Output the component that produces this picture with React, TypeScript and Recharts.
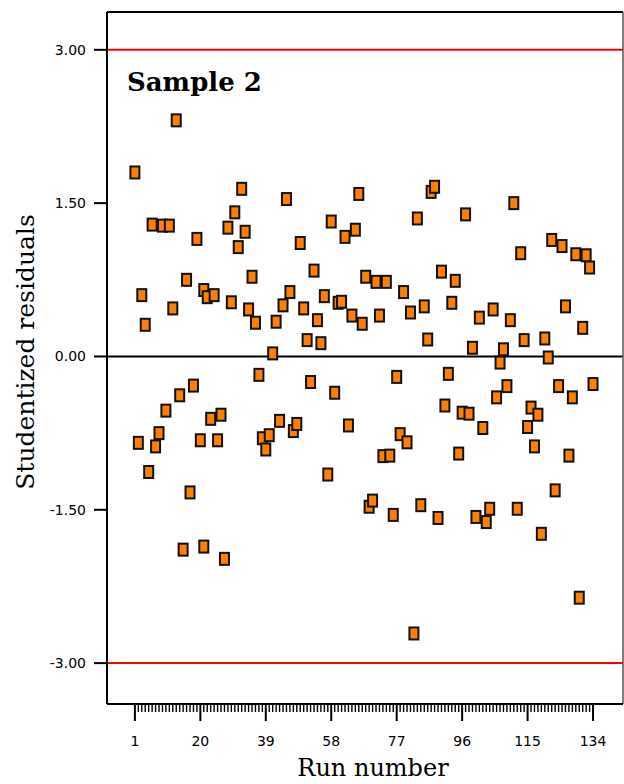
import {
  ScatterChart,
  Scatter,
  XAxis,
  YAxis,
  ReferenceLine,
} from "recharts";

// run number of each observation (21 appears twice in the record)
const RUNS = [
  1, 2, 3, 4, 5, 6, 7, 8, 9, 10, 11, 12, 13, 14, 15, 16, 17, 18, 19, 20, 21,
  21, 22, 23, 24, 25, 26, 27, 28, 29, 30, 31, 32, 33, 34, 35, 36, 37, 38, 39,
  40, 41, 42, 43, 44, 45, 46, 47, 48, 49, 50, 51, 52, 53, 54, 55, 56, 57, 58,
  59, 60, 61, 62, 63, 64, 65, 66, 67, 68, 69, 70, 71, 72, 73, 74, 75, 76, 77,
  78, 79, 80, 81, 82, 83, 84, 85, 86, 87, 88, 89, 90, 91, 92, 93, 94, 95, 96,
  97, 98, 99, 100, 101, 102, 103, 104, 105, 106, 107, 108, 109, 110, 111, 112,
  113, 114, 115, 116, 117, 118, 119, 120, 121, 122, 123, 124, 125, 126, 127,
  128, 129, 130, 131, 132, 133, 134,
];

// studentized residual for each run, same order as RUNS
const RESIDUALS = [
  1.8, -0.845, 0.6, 0.31, -1.13, 1.29, -0.88, -0.75, 1.28, -0.53, 1.28, 0.47,
  2.31, -0.38, -1.89, 0.75, -1.33, -0.285, 1.15, -0.82, -1.86,
  0.65, 0.58, -0.61, 0.6, -0.82, -0.57, -1.98, 1.26, 0.53, 1.41, 1.07, 1.64,
  1.22, 0.46, 0.78, 0.33, -0.18, -0.8, -0.91, -0.77, 0.03, 0.34, -0.63, 0.5,
  1.54, 0.63, -0.73, -0.66, 1.11, 0.47, 0.16, -0.25, 0.84, 0.355, 0.13, 0.59,
  -1.155, 1.32, -0.355, 0.525, 0.535, 1.17, -0.675, 0.4, 1.24, 1.59, 0.32,
  0.78, -1.47, -1.41, 0.73, 0.4, -0.975, 0.73, -0.97, -1.55, -0.2, -0.76, 0.63,
  -0.84, 0.43, -2.71, 1.35, -1.455, 0.49, 0.166, 1.61, 1.66, -1.58, 0.83,
  -0.48, -0.17, 0.525, 0.74, -0.95, -0.55, 1.39, -0.56, 0.085, -1.57, 0.38,
  -0.7, -1.62, -1.49, 0.46, -0.4, -0.06, 0.07, -0.29, 0.355, 1.5, -1.49, 1.01,
  0.16, -0.69, -0.5, -0.88, -0.57, -1.735, 0.176, -0.01, 1.14, -1.31, -0.29,
  1.08, 0.49, -0.97, -0.4, 1.0, -2.36, 0.28, 0.99, 0.87, -0.27,
];

const LABELED_RUNS = [1, 20, 39, 58, 77, 96, 115, 134];
const Y_TICKS = [-3, -1.5, 0, 1.5, 3];
const LIMIT = 3;

const X_DOMAIN: [number, number] = [-7.1, 142.7];
const Y_DOMAIN: [number, number] = [-3.4, 3.37];

const points = RUNS.map((run, i) => ({ run, residual: RESIDUALS[i] }));
const allRuns = Array.from({ length: 134 }, (_, i) => i + 1);

function Marker(props: any) {
  const { cx, cy } = props;
  if (cx == null || cy == null) return null;
  return (
    <rect
      x={cx - 4.5}
      y={cy - 6}
      width={9}
      height={12}
      fill="#ff8000"
      stroke="#111"
      strokeWidth={2}
    />
  );
}

function RunTick(props: any) {
  const { x, y, payload } = props;
  const major = LABELED_RUNS.includes(payload.value);
  return (
    <g>
      <line
        x1={x}
        x2={x}
        y1={y + 1}
        y2={y + (major ? 17 : 8)}
        stroke="#000"
        strokeWidth={major ? 2 : 1.4}
      />
      {major && (
        <text
          x={x}
          y={y + 42}
          textAnchor="middle"
          fill="#000"
          fontSize={14}
          fontFamily="DejaVu Sans"
        >
          {payload.value}
        </text>
      )}
    </g>
  );
}

export default function App() {
  return (
    <div style={{ position: "relative", width: 624, height: 784, background: "#fff" }}>
      <style>{"body{margin:0}"}</style>
      <ScatterChart
        width={624}
        height={784}
        margin={{ top: 12, right: 1, bottom: 0, left: 0 }}
      >
        <XAxis
          type="number"
          dataKey="run"
          domain={X_DOMAIN}
          ticks={allRuns}
          interval={0}
          allowDataOverflow
          height={80}
          tickSize={0}
          tickMargin={0}
          tickLine={false}
          tick={<RunTick />}
          axisLine={{ stroke: "#000", strokeWidth: 2 }}
        />
        <YAxis
          type="number"
          dataKey="residual"
          domain={Y_DOMAIN}
          ticks={Y_TICKS}
          interval={0}
          allowDataOverflow
          width={107}
          tickSize={13}
          tickMargin={8}
          tickFormatter={(v: number) => v.toFixed(2)}
          tick={{ fill: "#000", fontSize: 14, fontFamily: "DejaVu Sans" }}
          tickLine={{ stroke: "#000", strokeWidth: 2 }}
          axisLine={{ stroke: "#000", strokeWidth: 2 }}
        />
        <Scatter
          data={points}
          shape={<Marker />}
          isAnimationActive={false}
        />
        <ReferenceLine y={0} stroke="#000" strokeWidth={2} />
        <ReferenceLine y={LIMIT} stroke="#ff0000" strokeWidth={2} />
        <ReferenceLine y={-LIMIT} stroke="#ff0000" strokeWidth={2} />
        <ReferenceLine y={Y_DOMAIN[1]} stroke="#000" strokeWidth={2} />
        <ReferenceLine x={X_DOMAIN[1]} stroke="#555" strokeWidth={1.5} />
      </ScatterChart>
      <svg
        width={624}
        height={784}
        style={{ position: "absolute", left: 0, top: 0, pointerEvents: "none" }}
      >
        <text
          x={127}
          y={91}
          fontFamily="DejaVu Serif"
          fontWeight="bold"
          fontSize={26}
          fill="#000"
        >
          Sample 2
        </text>
        <text
          x={34}
          y={352}
          transform="rotate(-90 34 352)"
          textAnchor="middle"
          fontFamily="DejaVu Serif"
          fontSize={25}
          fill="#000"
        >
          Studentized residuals
        </text>
        <text
          x={373}
          y={776}
          textAnchor="middle"
          fontFamily="DejaVu Serif"
          fontSize={24}
          fill="#000"
        >
          Run number
        </text>
      </svg>
    </div>
  );
}
